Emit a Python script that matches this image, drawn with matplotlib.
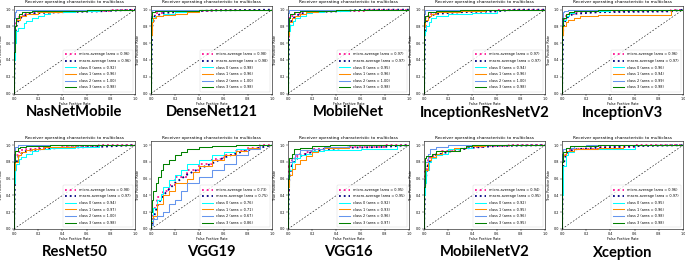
import matplotlib
matplotlib.use('Agg')
import matplotlib.pyplot as plt

models = ['NasNetMobile', 'DenseNet121', 'MobileNet', 'InceptionResNetV2', 'InceptionV3',
          'ResNet50', 'VGG19', 'VGG16', 'MobileNetV2', 'Xception']

# area values per model: micro, macro, class 0, class 1, class 2, class 3
auc_values = [
    [0.96, 0.96, 0.92, 0.96, 1.00, 0.98],
    [0.98, 0.98, 0.98, 0.96, 1.00, 0.98],
    [0.97, 0.97, 0.95, 0.96, 1.00, 0.98],
    [0.97, 0.97, 0.94, 0.96, 1.00, 0.98],
    [0.96, 0.97, 0.96, 0.94, 0.99, 0.98],
    [0.98, 0.97, 0.94, 0.97, 1.00, 0.98],
    [0.73, 0.75, 0.76, 0.71, 0.67, 0.86],
    [0.95, 0.95, 0.92, 0.93, 0.96, 0.97],
    [0.94, 0.95, 0.92, 0.95, 0.96, 0.95],
    [0.96, 0.97, 0.95, 0.96, 0.98, 0.98],
]

# ROC points (fpr, tpr): micro, macro, class 0..3
roc_nasnetmobile = [
    [(0, 0), (0.005, 0.55), (0.01, 0.72), (0.02, 0.82), (0.03, 0.88), (0.05, 0.91), (0.08, 0.93), (0.12, 0.95), (0.2, 0.96), (0.35, 0.97), (0.6, 0.98), (0.8, 0.99), (1, 1)],
    [(0, 0), (0.01, 0.7), (0.02, 0.8), (0.04, 0.88), (0.07, 0.92), (0.12, 0.95), (0.2, 0.96), (0.4, 0.97), (0.7, 0.98), (1, 1)],
    [(0, 0), (0.01, 0.4), (0.02, 0.6), (0.03, 0.75), (0.08, 0.78), (0.1, 0.84), (0.15, 0.87), (0.2, 0.9), (0.25, 0.93), (0.3, 0.95), (0.5, 0.97), (0.7, 0.98), (1, 1)],
    [(0, 0), (0.01, 0.6), (0.02, 0.8), (0.05, 0.88), (0.1, 0.92), (0.2, 0.95), (0.4, 0.97), (0.6, 0.98), (1, 1)],
    [(0, 0), (0.005, 0.9), (0.02, 0.97), (0.05, 1.0), (1, 1)],
    [(0, 0), (0.01, 0.5), (0.02, 0.8), (0.04, 0.9), (0.07, 0.95), (0.15, 0.97), (0.3, 0.98), (0.6, 0.99), (1, 1)],
]
roc_densenet121 = [
    [(0, 0), (0.005, 0.7), (0.01, 0.85), (0.03, 0.93), (0.1, 0.96), (0.3, 0.98), (0.5, 0.99), (1, 1)],
    [(0, 0), (0.01, 0.8), (0.03, 0.92), (0.1, 0.96), (0.3, 0.98), (0.5, 0.99), (1, 1)],
    [(0, 0), (0.01, 0.8), (0.03, 0.9), (0.1, 0.93), (0.2, 0.95), (0.35, 0.97), (0.4, 0.99), (0.6, 1.0), (1, 1)],
    [(0, 0), (0.01, 0.7), (0.02, 0.85), (0.04, 0.9), (0.1, 0.92), (0.2, 0.94), (0.3, 0.95), (0.4, 0.97), (0.55, 1.0), (1, 1)],
    [(0, 0), (0.005, 0.92), (0.02, 1.0), (1, 1)],
    [(0, 0), (0.01, 0.9), (0.03, 0.97), (0.1, 0.98), (0.4, 0.99), (1, 1)],
]
roc_mobilenet = [
    [(0, 0), (0.005, 0.65), (0.01, 0.8), (0.03, 0.9), (0.06, 0.93), (0.1, 0.95), (0.2, 0.97), (0.4, 0.98), (0.65, 0.99), (1, 1)],
    [(0, 0), (0.01, 0.75), (0.03, 0.88), (0.06, 0.92), (0.1, 0.95), (0.2, 0.97), (0.4, 0.98), (0.65, 1.0), (1, 1)],
    [(0, 0), (0.01, 0.7), (0.02, 0.75), (0.04, 0.82), (0.06, 0.87), (0.1, 0.9), (0.15, 0.93), (0.2, 0.96), (0.3, 0.97), (0.5, 0.98), (0.65, 1.0), (1, 1)],
    [(0, 0), (0.01, 0.7), (0.03, 0.85), (0.06, 0.9), (0.1, 0.93), (0.15, 0.95), (0.25, 0.97), (0.35, 0.98), (1, 1)],
    [(0, 0), (0.005, 0.96), (0.03, 1.0), (1, 1)],
    [(0, 0), (0.01, 0.75), (0.02, 0.9), (0.05, 0.95), (0.1, 0.97), (0.2, 0.98), (0.4, 0.99), (1, 1)],
]
roc_inceptionresnetv2 = [
    [(0, 0), (0.005, 0.7), (0.01, 0.82), (0.03, 0.9), (0.06, 0.93), (0.1, 0.95), (0.3, 0.97), (0.6, 0.98), (1, 1)],
    [(0, 0), (0.01, 0.8), (0.03, 0.89), (0.06, 0.93), (0.1, 0.95), (0.3, 0.97), (0.6, 0.98), (0.75, 1.0), (1, 1)],
    [(0, 0), (0.01, 0.7), (0.02, 0.75), (0.04, 0.8), (0.06, 0.85), (0.1, 0.9), (0.2, 0.93), (0.4, 0.95), (0.6, 0.96), (0.75, 1.0), (1, 1)],
    [(0, 0), (0.01, 0.8), (0.03, 0.88), (0.06, 0.92), (0.1, 0.95), (0.3, 0.97), (0.5, 0.98), (1, 1)],
    [(0, 0), (0.005, 0.95), (0.03, 1.0), (1, 1)],
    [(0, 0), (0.01, 0.85), (0.03, 0.93), (0.1, 0.97), (0.3, 0.98), (1, 1)],
]
roc_inceptionv3 = [
    [(0, 0), (0.005, 0.7), (0.01, 0.8), (0.03, 0.89), (0.06, 0.93), (0.1, 0.95), (0.3, 0.97), (0.9, 0.98), (1, 1)],
    [(0, 0), (0.01, 0.78), (0.03, 0.88), (0.06, 0.93), (0.1, 0.95), (0.3, 0.97), (0.9, 0.98), (1, 1)],
    [(0, 0), (0.01, 0.75), (0.03, 0.88), (0.06, 0.93), (0.1, 0.96), (0.2, 0.98), (0.4, 0.99), (1, 1)],
    [(0, 0), (0.01, 0.7), (0.03, 0.8), (0.05, 0.85), (0.1, 0.88), (0.15, 0.9), (0.3, 0.93), (0.9, 0.94), (0.92, 1.0), (1, 1)],
    [(0, 0), (0.005, 0.9), (0.02, 0.97), (0.05, 0.99), (0.1, 1.0), (1, 1)],
    [(0, 0), (0.01, 0.8), (0.03, 0.9), (0.06, 0.95), (0.1, 0.97), (0.3, 0.98), (1, 1)],
]
roc_resnet50 = [
    [(0, 0), (0.005, 0.65), (0.01, 0.78), (0.03, 0.88), (0.06, 0.92), (0.1, 0.94), (0.2, 0.96), (0.4, 0.97), (0.7, 0.98), (1, 1)],
    [(0, 0), (0.01, 0.7), (0.03, 0.85), (0.06, 0.9), (0.1, 0.93), (0.2, 0.95), (0.4, 0.97), (0.7, 0.98), (1, 1)],
    [(0, 0), (0.01, 0.55), (0.02, 0.7), (0.04, 0.78), (0.06, 0.83), (0.1, 0.86), (0.15, 0.9), (0.2, 0.93), (0.3, 0.95), (0.5, 0.97), (0.7, 0.98), (1, 1)],
    [(0, 0), (0.01, 0.7), (0.03, 0.8), (0.06, 0.88), (0.1, 0.92), (0.15, 0.94), (0.25, 0.96), (0.5, 0.98), (1, 1)],
    [(0, 0), (0.005, 0.9), (0.03, 0.98), (0.06, 1.0), (1, 1)],
    [(0, 0), (0.01, 0.8), (0.03, 0.93), (0.05, 0.97), (0.1, 0.98), (0.3, 0.99), (1, 1)],
]
roc_vgg19 = [
    [(0, 0), (0.02, 0.12), (0.05, 0.25), (0.1, 0.38), (0.15, 0.45), (0.2, 0.52), (0.3, 0.62), (0.4, 0.7), (0.5, 0.77), (0.6, 0.83), (0.7, 0.88), (0.8, 0.93), (0.9, 0.97), (1, 1)],
    [(0, 0), (0.02, 0.12), (0.05, 0.27), (0.1, 0.4), (0.2, 0.55), (0.3, 0.65), (0.4, 0.72), (0.5, 0.78), (0.6, 0.85), (0.7, 0.9), (0.8, 0.94), (0.9, 0.97), (1, 1)],
    [(0, 0), (0.02, 0.1), (0.05, 0.25), (0.08, 0.35), (0.1, 0.42), (0.15, 0.5), (0.2, 0.58), (0.25, 0.65), (0.3, 0.7), (0.4, 0.78), (0.5, 0.82), (0.6, 0.88), (0.7, 0.92), (0.8, 0.95), (0.9, 0.97), (1, 1)],
    [(0, 0), (0.02, 0.08), (0.05, 0.15), (0.1, 0.3), (0.15, 0.4), (0.2, 0.45), (0.3, 0.55), (0.35, 0.6), (0.4, 0.68), (0.5, 0.75), (0.6, 0.82), (0.7, 0.88), (0.8, 0.93), (0.9, 0.97), (1, 1)],
    [(0, 0), (0.02, 0.05), (0.05, 0.12), (0.1, 0.15), (0.15, 0.2), (0.2, 0.3), (0.25, 0.35), (0.3, 0.45), (0.4, 0.55), (0.5, 0.62), (0.6, 0.7), (0.7, 0.78), (0.8, 0.88), (0.9, 0.95), (1, 1)],
    [(0, 0), (0.01, 0.2), (0.02, 0.35), (0.04, 0.45), (0.06, 0.55), (0.08, 0.62), (0.1, 0.7), (0.15, 0.78), (0.2, 0.82), (0.25, 0.88), (0.3, 0.92), (0.4, 0.95), (0.5, 0.98), (0.7, 0.99), (1, 1)],
]
roc_vgg16 = [
    [(0, 0), (0.005, 0.45), (0.01, 0.6), (0.03, 0.75), (0.06, 0.83), (0.1, 0.87), (0.15, 0.9), (0.2, 0.92), (0.3, 0.95), (0.5, 0.97), (0.8, 0.98), (1, 1)],
    [(0, 0), (0.01, 0.58), (0.03, 0.75), (0.06, 0.82), (0.1, 0.87), (0.2, 0.92), (0.3, 0.95), (0.5, 0.97), (0.8, 0.98), (1, 1)],
    [(0, 0), (0.01, 0.5), (0.03, 0.7), (0.06, 0.8), (0.1, 0.85), (0.15, 0.88), (0.2, 0.9), (0.3, 0.93), (0.6, 0.94), (0.9, 0.95), (1, 1)],
    [(0, 0), (0.01, 0.5), (0.03, 0.65), (0.06, 0.72), (0.1, 0.78), (0.15, 0.82), (0.2, 0.87), (0.25, 0.92), (0.3, 0.95), (0.5, 0.97), (1, 1)],
    [(0, 0), (0.01, 0.65), (0.03, 0.8), (0.06, 0.85), (0.1, 0.9), (0.2, 0.94), (0.3, 0.96), (0.5, 0.98), (1, 1)],
    [(0, 0), (0.01, 0.6), (0.03, 0.85), (0.05, 0.9), (0.1, 0.95), (0.2, 0.97), (0.35, 0.99), (1, 1)],
]
roc_mobilenetv2 = [
    [(0, 0), (0.005, 0.4), (0.01, 0.55), (0.03, 0.72), (0.05, 0.82), (0.1, 0.87), (0.15, 0.9), (0.25, 0.93), (0.35, 0.96), (0.5, 0.98), (0.7, 0.99), (1, 1)],
    [(0, 0), (0.01, 0.55), (0.03, 0.75), (0.06, 0.84), (0.1, 0.88), (0.2, 0.92), (0.3, 0.95), (0.4, 0.97), (0.6, 0.99), (1, 1)],
    [(0, 0), (0.01, 0.4), (0.02, 0.55), (0.04, 0.7), (0.06, 0.8), (0.1, 0.85), (0.15, 0.88), (0.2, 0.9), (0.3, 0.95), (0.4, 0.97), (0.5, 1.0), (1, 1)],
    [(0, 0), (0.01, 0.55), (0.03, 0.7), (0.06, 0.82), (0.1, 0.86), (0.15, 0.9), (0.25, 0.93), (0.35, 0.97), (0.5, 0.99), (1, 1)],
    [(0, 0), (0.01, 0.6), (0.03, 0.8), (0.05, 0.9), (0.1, 0.95), (0.2, 0.98), (0.3, 1.0), (1, 1)],
    [(0, 0), (0.01, 0.5), (0.02, 0.85), (0.07, 0.87), (0.1, 0.9), (0.3, 0.93), (0.35, 0.97), (0.4, 0.99), (1, 1)],
]
roc_xception = [
    [(0, 0), (0.005, 0.6), (0.01, 0.78), (0.03, 0.88), (0.06, 0.92), (0.1, 0.94), (0.3, 0.96), (0.6, 0.98), (1, 1)],
    [(0, 0), (0.01, 0.75), (0.03, 0.88), (0.06, 0.93), (0.1, 0.95), (0.3, 0.97), (0.65, 0.99), (1, 1)],
    [(0, 0), (0.01, 0.4), (0.03, 0.75), (0.05, 0.88), (0.1, 0.92), (0.3, 0.95), (0.6, 0.96), (0.65, 1.0), (1, 1)],
    [(0, 0), (0.01, 0.8), (0.03, 0.88), (0.1, 0.93), (0.3, 0.95), (0.5, 0.97), (1, 1)],
    [(0, 0), (0.005, 0.9), (0.03, 0.95), (0.1, 0.97), (0.2, 0.99), (1, 1)],
    [(0, 0), (0.01, 0.8), (0.03, 0.92), (0.07, 0.97), (0.3, 0.99), (1, 1)],
]

rocs = [roc_nasnetmobile, roc_densenet121, roc_mobilenet, roc_inceptionresnetv2, roc_inceptionv3,
        roc_resnet50, roc_vgg19, roc_vgg16, roc_mobilenetv2, roc_xception]

curve_names = ['micro-average', 'macro-average', 'class 0', 'class 1', 'class 2', 'class 3']
class_colors = ['aqua', 'darkorange', 'cornflowerblue', 'green']

W, H = 685, 260
fig = plt.figure(figsize=(W / 100, H / 100), dpi=100)

lefts = [14, 151, 288, 424, 562]
row_tops = [5.5, 141]
ax_w, ax_h = 121, 88
label_y = [112.5, 252.5]


def plot_roc(ax, roc, aucs):
    fs = 2.4
    for k in range(6):
        x, y = zip(*roc[k])
        label = f'{curve_names[k]} (area = {aucs[k]:.2f})'
        if k == 0:
            ax.plot(x, y, color='deeppink', linestyle=':', lw=1.3, label=label, drawstyle='steps-pre')
        elif k == 1:
            ax.plot(x, y, color='navy', linestyle=':', lw=1.3, label=label)
        else:
            ax.plot(x, y, color=class_colors[k - 2], lw=0.75, label=label, drawstyle='steps-pre')
    ax.plot([0, 1], [0, 1], 'k--', lw=0.4, dashes=(3, 3))
    ax.set_xlim([0.0, 1.0])
    ax.set_ylim([0.0, 1.05])
    ax.set_xlabel('False Positive Rate', fontsize=fs, labelpad=1)
    ax.set_ylabel('True Positive Rate', fontsize=fs, labelpad=1.5)
    ax.set_title('Receiver operating characteristic to multiclass', fontsize=3.1, pad=1.5)
    ax.tick_params(labelsize=fs, length=1.2, width=0.3, pad=1)
    for s in ax.spines.values():
        s.set_linewidth(0.4)
    leg = ax.legend(loc='lower right', fontsize=2.5, handlelength=3.2, labelspacing=0.75,
                    borderpad=0.7, frameon=True, framealpha=0.8, edgecolor='#cccccc')
    leg.get_frame().set_linewidth(0.3)


for i, name in enumerate(models):
    row, col = divmod(i, 5)
    left = lefts[col]
    top = row_tops[row]
    ax = fig.add_axes([left / W, 1 - (top + ax_h) / H, ax_w / W, ax_h / H])
    plot_roc(ax, rocs[i], auc_values[i])
    fig.text((left + ax_w / 2) / W, 1 - label_y[row] / H, name, ha='center', va='center',
             fontsize=10.6, fontweight='bold', family=['Lato', 'DejaVu Sans'])

fig.savefig('out.png', dpi=100)
